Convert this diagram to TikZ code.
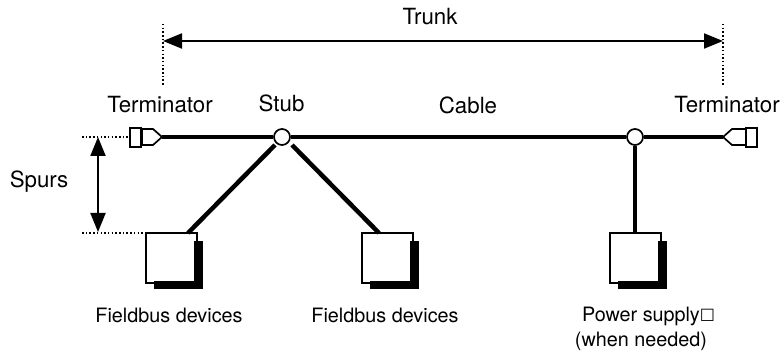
\documentclass[tikz,border=0pt]{standalone}
\usepackage{fontspec}
\setmainfont{TeX Gyre Heros}
\newfontfamily\symfont{DejaVu Sans}
\usetikzlibrary{arrows.meta}
\tikzset{
  x=1pt,y=-1pt,
  lbl/.style={inner sep=0pt,anchor=base,font=\fontsize{22.3}{26}\selectfont},
  sml/.style={inner sep=0pt,anchor=base,font=\fontsize{19.8}{24}\selectfont},
  dim/.style={line width=2pt,{Triangle[length=19pt,width=15pt]}-{Triangle[length=19pt,width=15pt]}},
  guide/.style={line width=1.4pt,dash pattern=on 1.5pt off 2.2pt},
  bus/.style={line width=4.4pt},
  spur/.style={line width=4.5pt},
  term/.style={line width=1.7pt,fill=white},
  junction/.style={circle,draw,fill=white,line width=1.7pt,minimum size=16pt,inner sep=0pt},
}
\begin{document}
\begin{tikzpicture}
\useasboundingbox (0,0) rectangle (781,352);
% labels
\node[lbl] (trunk) at (430,25) {Trunk};
\node[lbl] (tl) at (160,113) {Terminator};
\node[lbl] (stub) at (281.5,112) {Stub};
\node[lbl] (cable) at (468,114) {Cable};
\node[lbl] (tr) at (727,113) {Terminator};
\node[lbl] (spurs) at (39,188) {Spurs};
\node[sml] (f1) at (169,323) {Fieldbus devices};
\node[sml] (f2) at (385,323) {Fieldbus devices};
\node[sml] (ps) at (648.5,322) {Power supply{\raisebox{2pt}{\symfont\bfseries\fontsize{16}{16}\selectfont □}}};
\node[sml] (wn) at (641,346) {(when needed)};
% coordinates
\coordinate (tipL) at (162,137);
\coordinate (tipR) at (723,137);
\node[junction] (j1) at (282,137) {};
\node[junction] (j2) at (635,137) {};
% devices with shadows
\foreach \n/\x in {d1/146,d2/362,d3/610}{
  \fill (\x+48,241) rectangle (\x+57,289);
  \fill (\x+8,281) rectangle (\x+57,289);
  \draw[line width=1.7pt] (\x+8,283) -- (\x,283) -- (\x,233) -- (\x+51,233) -- (\x+51,241);
}
% bus
\draw[bus] (tipL) -- (j1);
\draw[bus] (j1) -- (j2);
\draw[bus] (j2) -- (tipR);
% spurs
\coordinate (s1) at (275,145);
\coordinate (s2) at (292,145);
\coordinate (e1) at (188,233);
\coordinate (e2) at (379,233);
\coordinate (e3) at (635,233);
\draw[spur] (s1) -- (e1);
\draw[spur] (s2) -- (e2);
\draw[spur] (j2.south) -- (e3);
% terminators
\draw[term] (130,128) rectangle (141,147);
\draw[term] (142,129) -- (153,129) -- (162,137) -- (153,145) -- (142,145) -- cycle;
\draw[term] (746,128) rectangle (757,147);
\draw[term] (746,129) -- (732,129) -- (723,137) -- (732,145) -- (746,145) -- cycle;
% dimensions
\coordinate (tg1) at (163,24);
\coordinate (tg2) at (163,86);
\coordinate (tg3) at (723,24);
\coordinate (tg4) at (723,86);
\coordinate (sg1) at (82,137);
\coordinate (sg2) at (130,137);
\coordinate (sg3) at (82,233);
\coordinate (sg4) at (146,233);
\coordinate (ta) at (163,41);
\coordinate (tb) at (723,41);
\coordinate (sa) at (98,137);
\coordinate (sb) at (98,232);
\draw[guide] (tg1) -- (tg2);
\draw[guide] (tg3) -- (tg4);
\draw[dim] (ta) -- (tb);
\draw[guide] (sg1) -- (sg2);
\draw[guide] (sg3) -- (sg4);
\draw[dim] (sa) -- (sb);
\end{tikzpicture}
\end{document}
